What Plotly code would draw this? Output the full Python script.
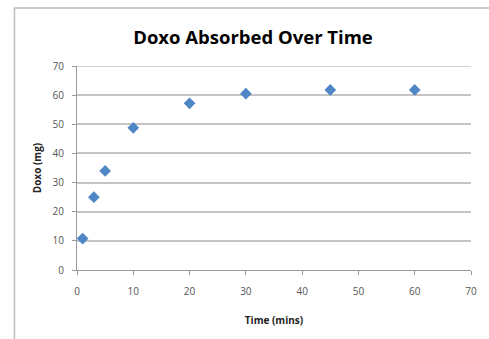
import plotly.graph_objects as go

time_mins = [1, 3, 5, 10, 20, 30, 45, 60]
doxo_mg = [10.8, 25, 34, 48.8, 57.2, 60.5, 61.8, 61.8]

W, H = 489, 339
L, R, T, B = 77, 15, 66, 69
pw, ph = W - L - R, H - T - B

fig = go.Figure()
fig.add_trace(go.Scatter(
    x=time_mins, y=doxo_mg, mode="markers",
    marker=dict(symbol="diamond", size=9, color="#4F86C6"),
    showlegend=False,
))

fig.update_layout(
    width=W, height=H,
    margin=dict(l=L, r=R, t=T, b=B),
    paper_bgcolor="white", plot_bgcolor="white",
    title=dict(text="<b>Doxo Absorbed Over Time</b>", x=253 / W, xanchor="center",
               y=1 - 38 / H, yanchor="middle",
               font=dict(family="Open Sans", size=18.5, color="#000")),
    font=dict(family="Open Sans", color="#555", size=10),
    xaxis=dict(range=[0, 70], dtick=10, showgrid=False, zeroline=False,
               showline=True, linecolor="#999", linewidth=1,
               ticks="outside", ticklen=4, tickcolor="#999", ticklabelstandoff=8,
               title=dict(text="<b>Time (mins)</b>", font=dict(size=10, color="#222"), standoff=19),
               fixedrange=True),
    yaxis=dict(range=[0, 70], dtick=10, showgrid=True, gridcolor="#c4c4c4", gridwidth=1.5,
               zeroline=False, showline=True, linecolor="#999", linewidth=1,
               ticks="outside", ticklen=4, tickcolor="#999", ticklabelstandoff=6,
               title=dict(text="<b>Doxo (mg)</b>", font=dict(size=10, color="#222"), standoff=9),
               fixedrange=True),
    shapes=[
        dict(type="rect", xref="paper", yref="paper",
             x0=(14 - L) / pw, x1=(W + 5 - L) / pw,
             y0=-(B + 5) / ph, y1=1 + (T - 8) / ph,
             line=dict(color="#bdbdbd", width=1.5), layer="below"),
        dict(type="line", xref="paper", yref="y", x0=0, x1=1, y0=70, y1=70,
             line=dict(color="#c4c4c4", width=1.5), layer="below"),
    ],
)

fig.write_html("out.html")
